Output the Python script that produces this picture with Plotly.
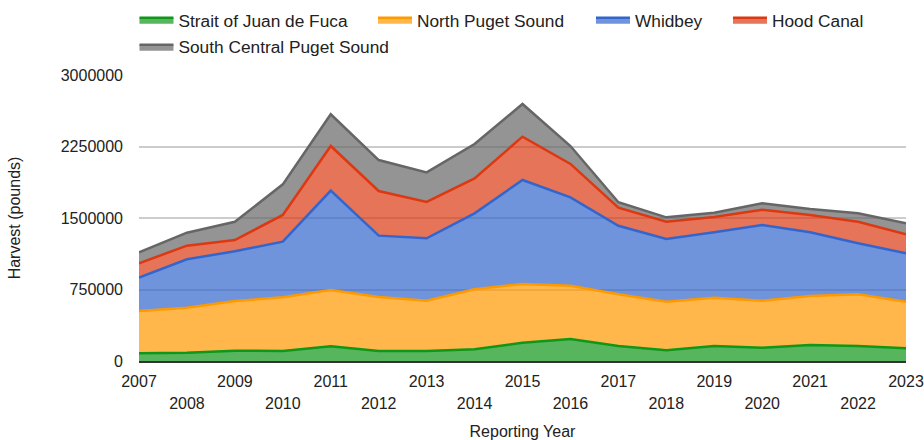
import plotly.graph_objects as go

years = list(range(2007, 2024))

strait_of_juan_de_fuca = [81000, 87000, 108000, 105000, 154000, 105000, 105000, 123000, 192000,
                          231000, 157000, 112000, 157000, 140000, 168000, 157000, 133000]
north_puget_sound = [443000, 472000, 521000, 563000, 591000, 566000, 528000, 629000, 616000,
                     559000, 543000, 510000, 507000, 493000, 514000, 543000, 489000]
whidbey = [350000, 508000, 522000, 584000, 1042000, 644000, 654000, 797000, 1091000,
           927000, 719000, 658000, 686000, 794000, 668000, 535000, 508000]
hood_canal = [151000, 143000, 118000, 280000, 468000, 468000, 381000, 367000, 454000,
              350000, 189000, 181000, 161000, 160000, 182000, 226000, 199000]
south_central_puget_sound = [115000, 136000, 192000, 321000, 333000, 325000, 311000, 360000, 343000,
                             188000, 57000, 46000, 45000, 67000, 62000, 88000, 115000]

series_names = ["Strait of Juan de Fuca", "North Puget Sound", "Whidbey", "Hood Canal",
                "South Central Puget Sound"]
series_values = [strait_of_juan_de_fuca, north_puget_sound, whidbey, hood_canal,
                 south_central_puget_sound]
line_colors = ["#109618", "#ff9900", "#3366cc", "#dc3912", "#666666"]
fill_colors = ["rgba(16,150,24,0.7)", "rgba(255,153,0,0.7)", "rgba(51,102,204,0.7)",
               "rgba(220,57,18,0.7)", "rgba(102,102,102,0.7)"]

y_ticks = [0, 750000, 1500000, 2250000, 3000000]
odd_years = [y for y in years if y % 2 == 1]
even_years = [y for y in years if y % 2 == 0]

# one legend per entry to mimic the reference spacing (x: paper, y: container)
legend_ids = ["legend", "legend2", "legend3", "legend4", "legend5"]
legend_x = [-0.0059, 0.3051, 0.5893, 0.7679, -0.0059]
legend_y = [0.9545, 0.9545, 0.9545, 0.9545, 0.8932]

fig = go.Figure()
for name, vals, lc, fc, lid in zip(series_names, series_values, line_colors, fill_colors, legend_ids):
    fig.add_trace(go.Scatter(
        x=years, y=vals, name=name, mode="lines",
        stackgroup="one", line=dict(color=lc, width=2.5),
        fillcolor=fc, legend=lid,
    ))

# invisible trace so the second (staggered) tick row renders
fig.add_trace(go.Scatter(x=[2007], y=[0], xaxis="x2", yaxis="y", showlegend=False,
                         mode="markers", marker=dict(opacity=0), hoverinfo="skip"))

font_family = "Liberation Sans, Arial, sans-serif"
layout_legends = {}
for lid, lx, ly in zip(legend_ids, legend_x, legend_y):
    layout_legends[lid] = dict(orientation="h", x=lx, xanchor="left", xref="paper",
                               y=ly, yanchor="middle", yref="container",
                               font=dict(size=17.3, color="#222222"), itemwidth=34,
                               bgcolor="rgba(0,0,0,0)")

fig.update_layout(
    width=924, height=440,
    margin=dict(l=139, r=18, t=75, b=79),
    paper_bgcolor="white", plot_bgcolor="white",
    font=dict(family=font_family, size=16, color="#222222"),
    showlegend=True,
    xaxis=dict(range=[2007, 2023], tickvals=odd_years, ticktext=[str(y) for y in odd_years],
               showgrid=False, zeroline=False, showline=True, linecolor="#333333", linewidth=2,
               ticks="", ticklabelstandoff=5, tickfont=dict(size=16, color="#222222"),
               automargin=False,
               title=dict(text="Reporting Year", font=dict(size=16, color="#222222"), standoff=37)),
    xaxis2=dict(range=[2007, 2023], overlaying="x", matches="x", anchor="y", side="bottom",
                tickvals=even_years, ticktext=[str(y) for y in even_years],
                showgrid=False, zeroline=False, showline=False, ticks="", automargin=False,
                ticklabelstandoff=31, tickfont=dict(size=16, color="#222222")),
    yaxis=dict(range=[0, 3000000], tickvals=y_ticks, tickformat="d",
               showgrid=True, gridcolor="#cccccc", gridwidth=1.5, zeroline=False,
               ticks="", ticklabelstandoff=15, tickfont=dict(size=16, color="#222222"),
               automargin=False,
               title=dict(text="Harvest (pounds)", font=dict(size=16, color="#222222"), standoff=36)),
    **layout_legends,
)

fig.write_html("out.html", config={"displayModeBar": False},
               post_script="document.body.style.margin='0';document.body.style.overflow='hidden';")
